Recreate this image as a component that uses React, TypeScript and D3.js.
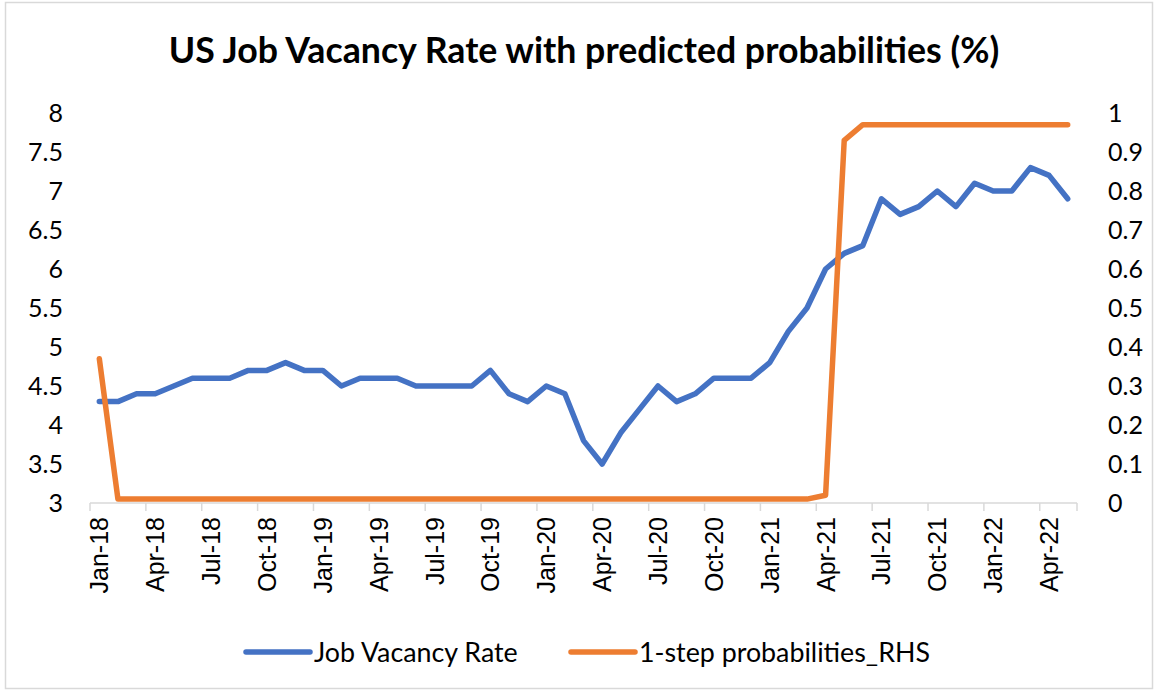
import { useRef, useEffect } from 'react';
import * as d3 from 'd3';

// monthly categories Jan-18 .. May-22
const months: string[] = d3.timeMonths(new Date(2018, 0, 1), new Date(2022, 5, 1))
  .map(d => d3.timeFormat('%b-%y')(d));

const vacancyRate: number[] = [
  4.3, 4.3, 4.4, 4.4, 4.5, 4.6, 4.6, 4.6, 4.7, 4.7, 4.8, 4.7,
  4.7, 4.5, 4.6, 4.6, 4.6, 4.5, 4.5, 4.5, 4.5, 4.7, 4.4, 4.3,
  4.5, 4.4, 3.8, 3.5, 3.9, 4.2, 4.5, 4.3, 4.4, 4.6, 4.6, 4.6,
  4.8, 5.2, 5.5, 6.0, 6.2, 6.3, 6.9, 6.7, 6.8, 7.0, 6.8, 7.1,
  7.0, 7.0, 7.3, 7.2, 6.9,
];

const probabilities: number[] = [
  0.37, 0.01, 0.01, 0.01, 0.01, 0.01, 0.01, 0.01, 0.01, 0.01, 0.01, 0.01,
  0.01, 0.01, 0.01, 0.01, 0.01, 0.01, 0.01, 0.01, 0.01, 0.01, 0.01, 0.01,
  0.01, 0.01, 0.01, 0.01, 0.01, 0.01, 0.01, 0.01, 0.01, 0.01, 0.01, 0.01,
  0.01, 0.01, 0.01, 0.02, 0.93, 0.97, 0.97, 0.97, 0.97, 0.97, 0.97, 0.97,
  0.97, 0.97, 0.97, 0.97, 0.97,
];

const leftTicks: number[] = [3, 3.5, 4, 4.5, 5, 5.5, 6, 6.5, 7, 7.5, 8];
const rightTicks: number[] = [0, 0.1, 0.2, 0.3, 0.4, 0.5, 0.6, 0.7, 0.8, 0.9, 1];

const seriesNames = ['Job Vacancy Rate', '1-step probabilities_RHS'];
const seriesColors = ['#4472C4', '#ED7D31'];

const calibri = 'Lato, "Open Sans", sans-serif';
const arial = '"Liberation Sans", Arial, sans-serif';

export default function App() {
  const svgRef = useRef<SVGSVGElement>(null);

  useEffect(() => {
    const width = 1161;
    const height = 693;
    const plot = { left: 90, right: 1077, top: 113, bottom: 503 };

    const svg = d3.select(svgRef.current);
    svg.selectAll('*').remove();
    svg.attr('viewBox', `0 0 ${width} ${height}`);

    svg.append('rect')
      .attr('width', width).attr('height', height).attr('fill', '#ffffff');
    svg.append('rect')
      .attr('x', 5.5).attr('y', 2.5)
      .attr('width', 1147).attr('height', 686)
      .attr('fill', 'none').attr('stroke', '#d9d9d9').attr('stroke-width', 1.5);

    // title
    svg.append('text')
      .attr('x', 584).attr('y', 63)
      .attr('text-anchor', 'middle')
      .style('font-family', calibri)
      .style('font-size', '35.7px')
      .style('font-weight', '700')
      .attr('fill', '#000000')
      .text('US Job Vacancy Rate with predicted probabilities (%)');

    const x = d3.scaleBand<string>()
      .domain(months)
      .range([plot.left, plot.right])
      .paddingInner(0).paddingOuter(0);

    const yLeft = d3.scaleLinear().domain([3, 8]).range([plot.bottom, plot.top]);
    const yRight = d3.scaleLinear().domain([0, 1]).range([plot.bottom, plot.top]);

    const cx = (i: number) => (x(months[i]) as number) + x.bandwidth() / 2;

    // x axis line + ticks between categories every 3 months
    const g = svg.append('g');
    g.append('line')
      .attr('x1', plot.left).attr('x2', plot.right)
      .attr('y1', plot.bottom).attr('y2', plot.bottom)
      .attr('stroke', '#d9d9d9').attr('stroke-width', 1.5);

    const tickIdx = d3.range(0, months.length, 3);
    g.selectAll('.xtick')
      .data([...tickIdx, months.length])
      .enter()
      .append('line')
      .attr('x1', i => plot.left + i * x.bandwidth())
      .attr('x2', i => plot.left + i * x.bandwidth())
      .attr('y1', plot.bottom).attr('y2', plot.bottom + 8)
      .attr('stroke', '#d9d9d9').attr('stroke-width', 1.5);

    g.selectAll('.xlabel')
      .data(tickIdx)
      .enter()
      .append('text')
      .attr('transform', i => `translate(${cx(i) + 9},${plot.bottom + 14}) rotate(-90)`)
      .attr('text-anchor', 'end')
      .style('font-family', arial)
      .style('font-size', '25px')
      .attr('fill', '#000000')
      .text(i => months[i]);

    // left axis labels
    g.selectAll('.ylabel')
      .data(leftTicks)
      .enter()
      .append('text')
      .attr('x', 63)
      .attr('y', d => yLeft(d))
      .attr('dy', '0.36em')
      .attr('text-anchor', 'end')
      .style('font-family', calibri)
      .style('font-size', '25px')
      .attr('fill', '#000000')
      .text(d => d);

    // right axis labels
    g.selectAll('.y2label')
      .data(rightTicks)
      .enter()
      .append('text')
      .attr('x', 1108)
      .attr('y', d => yRight(d))
      .attr('dy', '0.36em')
      .attr('text-anchor', 'start')
      .style('font-family', calibri)
      .style('font-size', '25px')
      .attr('fill', '#000000')
      .text(d => d);

    const vacLine = d3.line<number>()
      .x((d, i) => cx(i))
      .y(d => yLeft(d));

    const probLine = d3.line<number>()
      .x((d, i) => cx(i))
      .y(d => yRight(d));

    svg.append('path')
      .datum(vacancyRate)
      .attr('d', vacLine)
      .attr('fill', 'none')
      .attr('stroke', seriesColors[0])
      .attr('stroke-width', 5.5)
      .attr('stroke-linejoin', 'round')
      .attr('stroke-linecap', 'round');

    svg.append('path')
      .datum(probabilities)
      .attr('d', probLine)
      .attr('fill', 'none')
      .attr('stroke', seriesColors[1])
      .attr('stroke-width', 5.5)
      .attr('stroke-linejoin', 'round')
      .attr('stroke-linecap', 'round');

    // legend
    const legendPos = [246, 571];
    const legend = svg.append('g');
    const rows = legend.selectAll('g')
      .data(seriesNames)
      .enter()
      .append('g')
      .attr('transform', (d, i) => `translate(${legendPos[i]},652)`);

    rows.append('line')
      .attr('x1', 0).attr('x2', 64)
      .attr('y1', 0).attr('y2', 0)
      .attr('stroke', (d, i) => seriesColors[i])
      .attr('stroke-width', 5.5)
      .attr('stroke-linecap', 'round');

    rows.append('text')
      .attr('x', 68)
      .attr('y', 0)
      .attr('dy', '0.36em')
      .style('font-family', calibri)
      .style('font-size', '26.8px')
      .attr('fill', '#000000')
      .text(d => d);
  }, []);

  return (
    <svg
      ref={svgRef}
      width={1161}
      height={693}
      style={{ position: 'absolute', left: 0, top: 0, display: 'block' }}
    />
  );
}
